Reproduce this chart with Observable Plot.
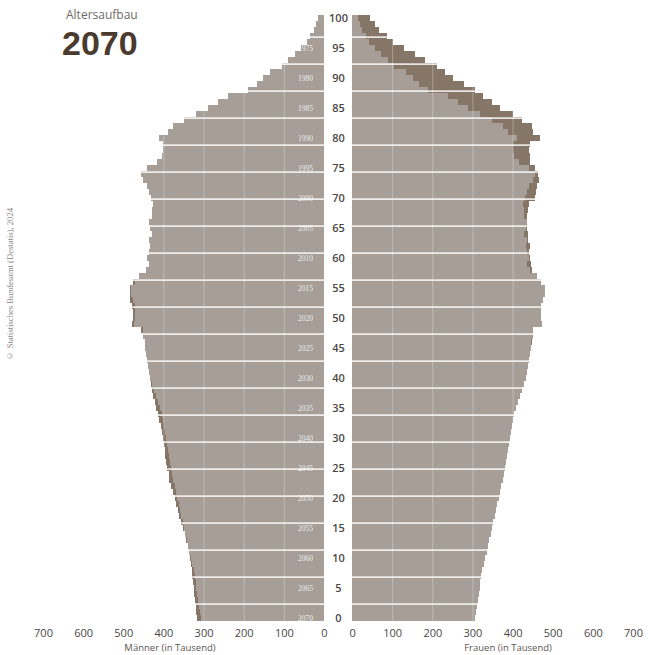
<!DOCTYPE html>
<html>
<head>
<meta charset="utf-8">
<script src="https://cdn.jsdelivr.net/npm/d3@7"></script>
<script src="https://cdn.jsdelivr.net/npm/@observablehq/plot@0.6"></script>
<style>
  body { margin: 0; background: #fff; }
  #wrap { position: relative; width: 648px; height: 655px; overflow: hidden; font-family: "Open Sans", sans-serif; }
  #chart { position: absolute; left: 0; top: 0; }
  .t { position: absolute; line-height: 1; white-space: nowrap; }
  #kicker { left: 66px; top: 9px; font-size: 12px; color: #6e6a66; }
  #year { left: 62px; top: 26px; font-family: "Liberation Sans", Arial, sans-serif; font-size: 34px; font-weight: 700; color: #4b3a2e; }
  #caption { left: 6px; top: 208px; font-family: "Liberation Serif", serif; font-size: 8.6px; color: #8a8683;
             writing-mode: vertical-rl; transform: rotate(180deg); }
  .axt { top: 643px; width: 150px; text-align: center; font-size: 9.5px; color: #5a5653; }
</style>
</head>
<body>
<div id="wrap">
  <div id="chart"></div>
  <div class="t" id="kicker">Altersaufbau</div>
  <div class="t" id="year">2070</div>
  <div class="t" id="caption">© Statistisches Bundesamt (Destatis), 2024</div>
  <div class="t axt" style="left:95px">Männer (in Tausend)</div>
  <div class="t axt" style="left:433px">Frauen (in Tausend)</div>
</div>
<script>
// Age in years (0 … 100)
const ages = [0,1,2,3,4,5,6,7,8,9,10,11,12,13,14,15,16,17,18,19,20,21,22,23,24,25,26,27,28,29,30,
  31,32,33,34,35,36,37,38,39,40,41,42,43,44,45,46,47,48,49,50,51,52,53,54,55,56,57,58,59,60,
  61,62,63,64,65,66,67,68,69,70,71,72,73,74,75,76,77,78,79,80,81,82,83,84,85,86,87,88,89,90,
  91,92,93,94,95,96,97,98,99,100];

// Männer (in Tausend), by age
const male = [317,319,320,322,324,325,327,329,330,332,334,337,339,343,347,352,356,360,364,368,
  372,377,381,385,387,391,393,395,397,399,401,404,407,410,414,418,422,426,429,432,
  434,437,439,440,443,445,447,452,457,479,475,477,479,483,482,482,475,462,443,437,
  442,437,433,435,429,433,435,429,429,427,432,436,440,452,455,440,417,404,400,400,
  410,388,376,349,319,288,263,238,190,168,151,134,105,89,72,56,43,35,25,21,14];

// Frauen (in Tausend), by age
const female = [306,308,311,313,316,318,320,322,325,328,331,335,338,341,345,348,351,355,358,361,
  365,368,371,375,378,381,384,387,389,391,393,395,398,400,403,408,413,418,423,429,
  433,436,439,441,443,446,448,450,452,474,471,472,472,477,481,481,472,460,448,446,
  444,442,444,439,438,435,437,435,438,442,455,458,460,466,464,456,444,444,442,444,
  468,452,448,423,402,369,348,327,306,280,252,232,211,182,157,130,103,86,66,56,45];

// Labels
const ageTicks = [0,5,10,15,20,25,30,35,40,45,50,55,60,65,70,75,80,85,90,95,100];
const birthYearAges = [0,5,10,15,20,25,30,35,40,45,50,55,60,65,70,75,80,85,90,95];
const birthYears = ["2070","2065","2060","2055","2050","2045","2040","2035","2030","2025",
  "2020","2015","2010","2005","2000","1995","1990","1985","1980","1975"];
const xTickValues = [0,100,200,300,400,500,600,700];

const GAP = 35; // half-gap between the two halves, in scale units
const LIGHT = "#a69e97";
const DARK = "#857667";

const rows = ages.map((a, i) => ({age: a, m: male[i], f: female[i], lo: Math.min(male[i], female[i])}));
const yearRows = birthYearAges.map((a, i) => ({age: a, label: birthYears[i]}));
const gridX = xTickValues.filter(v => v > 0).flatMap(v => [-(GAP + v), GAP + v]);
const gridY = d3.range(2.4, 100, 4.5);

const y1 = d => d.age - 0.5, y2 = d => d.age + 0.5;

const plot = Plot.plot({
  width: 648,
  height: 655,
  marginLeft: 43,
  marginRight: 15,
  marginTop: 15,
  marginBottom: 34,
  style: {fontFamily: "Open Sans, sans-serif", color: "#4a4745", background: "transparent"},
  x: {domain: [-(GAP + 700), GAP + 700]},
  y: {domain: [-0.5, 100.5], axis: null},
  marks: [
    // Männer: full bar (surplus shows dark), then the common part light
    Plot.rect(rows, {x1: -GAP, x2: d => -(GAP + d.m), y1, y2, fill: DARK, shapeRendering: "crispEdges"}),
    Plot.rect(rows, {x1: -GAP, x2: d => -(GAP + d.lo), y1, y2, fill: LIGHT, shapeRendering: "crispEdges"}),
    // Frauen
    Plot.rect(rows, {x1: GAP, x2: d => GAP + d.f, y1, y2, fill: DARK, shapeRendering: "crispEdges"}),
    Plot.rect(rows, {x1: GAP, x2: d => GAP + d.lo, y1, y2, fill: LIGHT, shapeRendering: "crispEdges"}),
    // grid lines over the bars (white, so only visible on the bars)
    Plot.ruleX(gridX, {stroke: "#ffffff", strokeOpacity: 0.3, strokeWidth: 1}),
    Plot.ruleY(gridY, {stroke: "#ffffff", strokeOpacity: 0.8, strokeWidth: 1.6}),
    // birth years inside the men's bars
    Plot.text(yearRows, {x: -(GAP + 47), y: "age", text: "label", fill: "#ffffff", fillOpacity: 0.85,
      fontFamily: "Liberation Serif, serif", fontSize: 7.5}),
    // age labels in the middle
    Plot.text(ageTicks, {x: 0, y: d => d, text: d => String(d), fontSize: 11, fontWeight: 600, fill: "#4a4745"}),
    Plot.axisX({
      ticks: [...xTickValues.map(v => -(GAP + v)), ...xTickValues.map(v => GAP + v)],
      tickFormat: d => String(Math.abs(d) - GAP),
      tickSize: 0,
      tickPadding: 8,
      fontSize: 11,
      label: null
    })
  ]
});
document.getElementById("chart").appendChild(plot);
</script>
</body>
</html>
